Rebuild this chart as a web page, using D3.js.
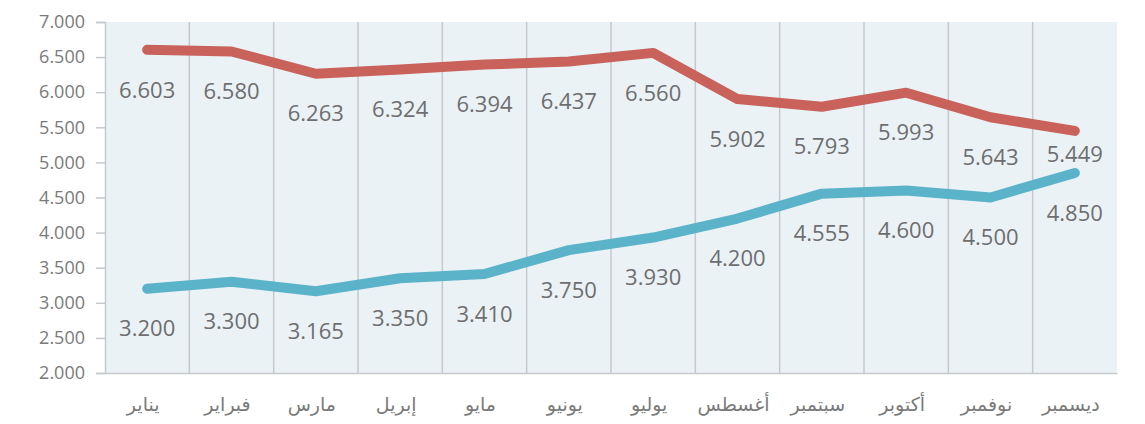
<!DOCTYPE html>
<html lang="ar">
  <head>
    <meta charset="utf-8">
    <title>Monthly series</title>
    <script type="text/javascript" src="https://cdn.jsdelivr.net/npm/d3@7"></script>
    <style>
    body { margin: 0; background: #ffffff; }
    #chart { width: 1145px; height: 424px; }
    .axis text { font-family: "Open Sans", "Noto Sans", sans-serif; fill: #7a7a7a; }
    .data-label { font-family: "Open Sans", "Noto Sans", sans-serif; fill: #6e6e6e; }
    </style>
  </head>
  <body>
    <div id="chart"></div>

    <script type="text/javascript">

      // data
      var months = ['يناير', 'فبراير', 'مارس', 'إبريل', 'مايو', 'يونيو',
                    'يوليو', 'أغسطس', 'سبتمبر', 'أكتوبر', 'نوفمبر', 'ديسمبر'];
      var redValues = [6603, 6580, 6263, 6324, 6394, 6437, 6560, 5902, 5793, 5993, 5643, 5449];
      var tealValues = [3200, 3300, 3165, 3350, 3410, 3750, 3930, 4200, 4555, 4600, 4500, 4850];
      var yTicks = [2000, 2500, 3000, 3500, 4000, 4500, 5000, 5500, 6000, 6500, 7000];

      var dims = { w: 1145, h: 424, left: 105, right: 1117, top: 22, bottom: 373 };
      var labelGap = 40;

      var svg = d3.select('#chart')
        .append('svg')
          .attr('width', dims.w)
          .attr('height', dims.h);

      // number format with "." as thousands separator
      var fmt = d3.formatLocale({ decimal: ',', thousands: '.', grouping: [3], currency: ['', ''] }).format(',');

      var xScale = d3.scaleBand()
        .domain(d3.range(months.length))
        .range([dims.left, dims.right]);

      var yScale = d3.scaleLinear()
        .domain([2000, 7000])
        .range([dims.bottom, dims.top]);

      // plot background
      svg.append('rect')
        .attr('x', dims.left)
        .attr('y', dims.top)
        .attr('width', dims.right - dims.left)
        .attr('height', dims.bottom - dims.top)
        .attr('fill', '#ebf2f6');

      // vertical grid lines at band edges
      svg.selectAll('.vgrid')
        .data(d3.range(1, months.length))
        .enter()
        .append('line')
          .attr('class', 'vgrid')
          .attr('x1', function(d) { return xScale(d); })
          .attr('x2', function(d) { return xScale(d); })
          .attr('y1', dims.top)
          .attr('y2', dims.bottom)
          .attr('stroke', '#c5c9cc')
          .attr('stroke-width', 1.5);

      // y axis
      var yAxis = d3.axisLeft(yScale)
        .tickValues(yTicks)
        .tickSize(9)
        .tickPadding(11)
        .tickFormat(fmt);

      var gy = svg.append('g')
        .attr('class', 'axis')
        .attr('transform', 'translate(' + dims.left + ',0)')
        .call(yAxis);
      gy.select('.domain').attr('stroke', '#c5c9cc').attr('stroke-width', 1.5);
      gy.selectAll('.tick line').attr('stroke', '#c5c9cc').attr('stroke-width', 1.5);
      gy.selectAll('.tick text').style('font-size', '18px');

      // x axis
      var xAxis = d3.axisBottom(xScale)
        .tickSize(0)
        .tickPadding(25)
        .tickFormat(function(d) { return months[d]; });

      var gx = svg.append('g')
        .attr('class', 'axis')
        .attr('transform', 'translate(0,' + dims.bottom + ')')
        .call(xAxis);
      gx.select('.domain').attr('stroke', '#c5c9cc').attr('stroke-width', 1.5);
      gx.selectAll('.tick text')
        .style('font-size', '19px')
        .style('font-family', '"DejaVu Sans", sans-serif')
        .style('letter-spacing', '1px')
        .attr('dx', -4);

      var line = d3.line()
        .x(function(d, i) { return xScale(i) + xScale.bandwidth() / 2; })
        .y(function(d) { return yScale(d); });

      var series = [
        { values: redValues, color: '#c8625b' },
        { values: tealValues, color: '#5bb3c9' }
      ];

      series.forEach(function(s, si) {
        svg.append('path')
          .datum(s.values)
          .attr('d', line)
          .attr('fill', 'none')
          .attr('stroke', s.color)
          .attr('stroke-width', 10)
          .attr('stroke-linecap', 'round')
          .attr('stroke-linejoin', 'round');

        svg.selectAll(null)
          .data(s.values)
          .enter()
          .append('text')
            .attr('class', 'data-label')
            .attr('x', function(d, i) { return xScale(i) + xScale.bandwidth() / 2; })
            .attr('y', function(d, i) {
              // last red label sits tighter so it clears the teal line
              var gap = (si === 0 && i === s.values.length - 1) ? 23 : labelGap;
              return yScale(d) + gap;
            })
            .attr('dy', '0.35em')
            .attr('text-anchor', 'middle')
            .style('font-size', '22px')
            .text(function(d) { return fmt(d); });
      });

    </script>
  </body>
</html>
